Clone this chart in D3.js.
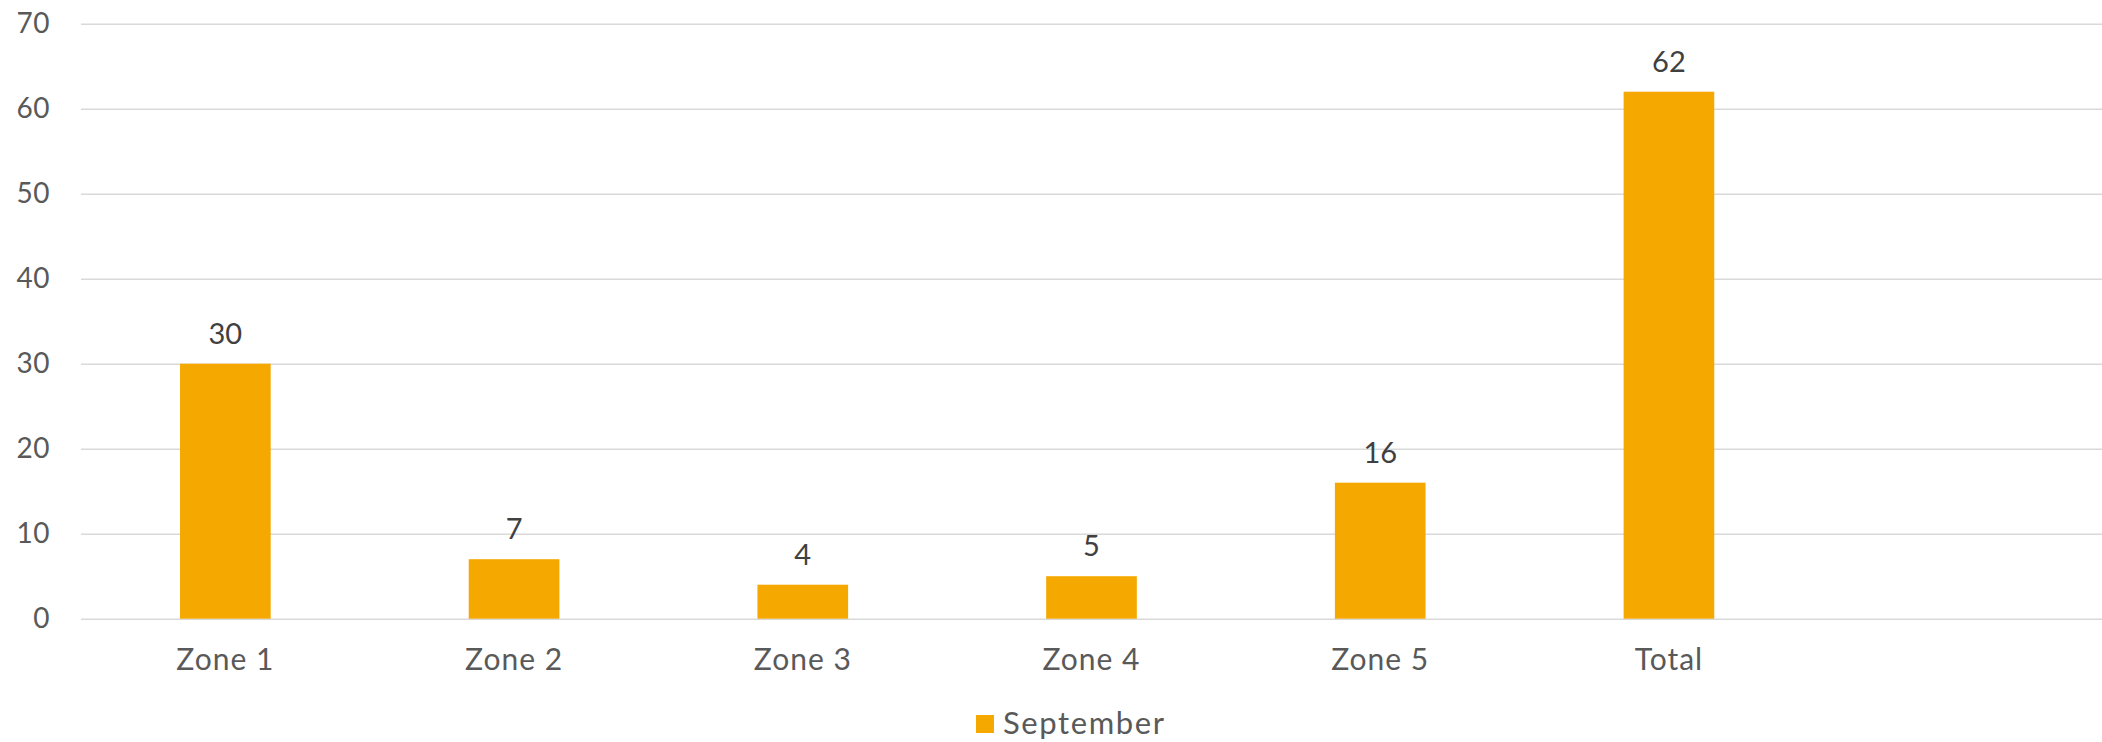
<!DOCTYPE html>
<html>
<head>
<meta charset="utf-8">
<script src="https://cdn.jsdelivr.net/npm/d3@7"></script>
<style>
  html, body { margin: 0; padding: 0; background: #fff; }
  svg { display: block; font-family: Lato, "Noto Sans", sans-serif; }
</style>
</head>
<body>
<svg id="chart"></svg>
<script>
var width = 2102;
var height = 742;

// chart data
var categories = ['Zone 1', 'Zone 2', 'Zone 3', 'Zone 4', 'Zone 5', 'Total'];
var september = [30, 7, 4, 5, 16, 62];
var seriesName = 'September';
var yTicks = [0, 10, 20, 30, 40, 50, 60, 70];

var barColor = '#F5A800';
var gridColor = '#D9D9D9';

var margin = {top: 23.7, right: 0, bottom: 123.3, left: 81};
var plotW = width - margin.left - margin.right;
var plotH = height - margin.top - margin.bottom;

var svg = d3.select('#chart')
  .attr('width', width)
  .attr('height', height);

var g = svg.append('g')
  .attr('transform', 'translate(' + margin.left + ',' + margin.top + ')');

// one empty slot on the right, as in the original
var slots = categories.concat(['']);

var x = d3.scaleBand()
  .domain(slots)
  .range([0, plotW])
  .paddingInner(0.686)
  .paddingOuter(0.343);

var y = d3.scaleLinear()
  .domain([0, 70])
  .range([plotH, 0]);

// grid
g.selectAll('line.grid')
  .data(yTicks)
  .enter().append('line')
  .attr('class', 'grid')
  .attr('x1', 0)
  .attr('x2', plotW)
  .attr('y1', function (d) { return Math.round(y(d)) + 0.5; })
  .attr('y2', function (d) { return Math.round(y(d)) + 0.5; })
  .attr('stroke', gridColor)
  .attr('stroke-width', 1.5);

// y tick labels
var yAxis = d3.axisLeft(y).tickValues(yTicks).tickSize(0).tickPadding(31);
var yg = g.append('g').call(yAxis);
yg.select('.domain').remove();
yg.selectAll('text')
  .attr('fill', '#595959')
  .style('font-size', '28px')
  .style('letter-spacing', '0.5px')
  .style('font-family', 'Lato, "Noto Sans", sans-serif');

// bars
var data = categories.map(function (c, i) { return {cat: c, value: september[i]}; });

g.selectAll('rect.bar')
  .data(data)
  .enter().append('rect')
  .attr('class', 'bar')
  .attr('x', function (d) { return x(d.cat); })
  .attr('width', x.bandwidth())
  .attr('y', function (d) { return y(d.value); })
  .attr('height', function (d) { return plotH - y(d.value); })
  .attr('fill', barColor);

// value labels
g.selectAll('text.val')
  .data(data)
  .enter().append('text')
  .attr('class', 'val')
  .attr('x', function (d) { return x(d.cat) + x.bandwidth() / 2; })
  .attr('y', function (d) { return y(d.value) - 20; })
  .attr('text-anchor', 'middle')
  .attr('fill', '#404040')
  .style('font-size', '29px')
  .text(function (d) { return d.value; });

// category labels
var xAxis = d3.axisBottom(x).tickValues(categories).tickSize(0).tickPadding(30);
var xg = g.append('g')
  .attr('transform', 'translate(0,' + plotH + ')')
  .call(xAxis);
xg.select('.domain').remove();
xg.selectAll('text')
  .attr('fill', '#595959')
  .style('font-size', '30px')
  .style('letter-spacing', '1px')
  .style('font-family', 'Lato, "Noto Sans", sans-serif');

// legend
var legend = svg.append('g')
  .attr('transform', 'translate(976,715)');
legend.append('rect')
  .attr('width', 18)
  .attr('height', 18)
  .attr('fill', barColor);
legend.append('text')
  .attr('x', 27)
  .attr('y', 19)
  .attr('fill', '#595959')
  .style('font-size', '31px')
  .style('letter-spacing', '1.6px')
  .text(seriesName);
</script>
</body>
</html>
